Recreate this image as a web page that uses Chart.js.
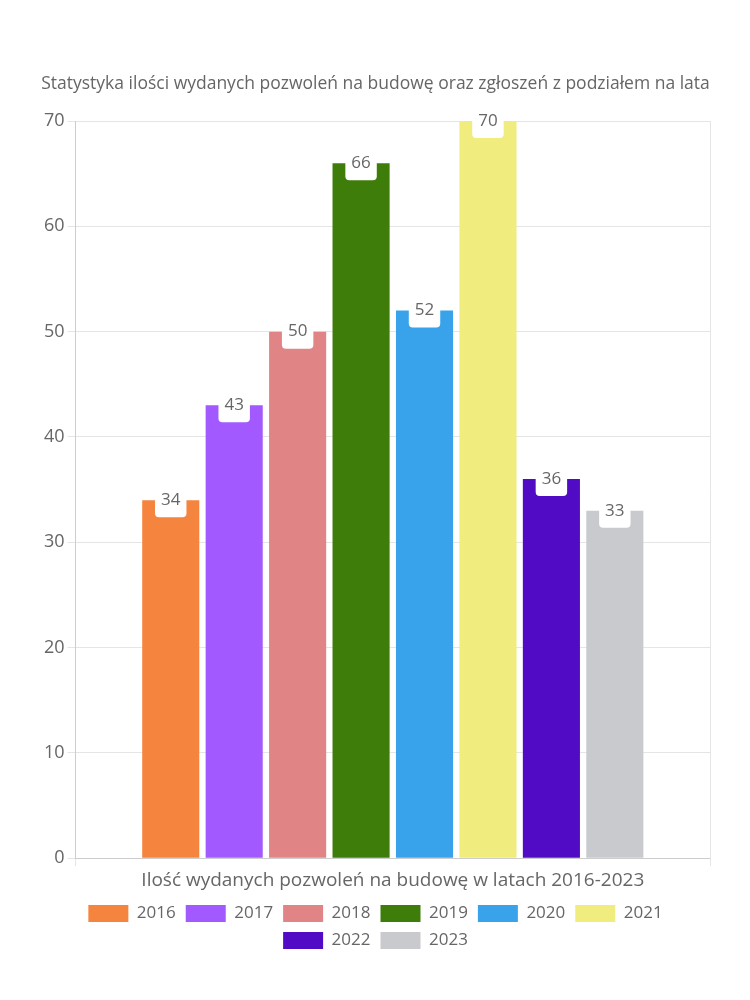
<!DOCTYPE html>
<html>
<head>
<meta charset="utf-8">
<script src="https://cdn.jsdelivr.net/npm/chart.js@4"></script>
<style>
  body { margin: 0; background: #fff; }
  #wrap { width: 750px; height: 1000px; }
</style>
</head>
<body>
<div id="wrap"><canvas id="chart"></canvas></div>
<script>
// data
const categories = ["Ilość wydanych pozwoleń na budowę w latach 2016-2023"];
const years = ["2016", "2017", "2018", "2019", "2020", "2021", "2022", "2023"];
const permits = [34, 43, 50, 66, 52, 70, 36, 33];
const colors = ["#F5843F", "#A259FF", "#E18486", "#3F7D0A", "#38A3EA", "#F0EC7E", "#520BC5", "#C9CACE"];
const yTicks = [0, 10, 20, 30, 40, 50, 60, 70];

const FONT = "'Open Sans', sans-serif";
const GREY = "#666";

// white rounded label box centred on the top of each bar
const valueLabels = {
  id: "valueLabels",
  afterDatasetsDraw(chart) {
    const ctx = chart.ctx;
    ctx.save();
    ctx.font = "17px " + FONT;
    ctx.textAlign = "center";
    ctx.textBaseline = "middle";
    chart.data.datasets.forEach((ds, i) => {
      const meta = chart.getDatasetMeta(i);
      if (meta.hidden) return;
      meta.data.forEach((bar, j) => {
        const text = String(ds.data[j]);
        const w = ctx.measureText(text).width + 12;
        const h = 34;
        ctx.fillStyle = "#fff";
        ctx.beginPath();
        ctx.roundRect(bar.x - w / 2, bar.y - h / 2, w, h, 4);
        ctx.fill();
        ctx.fillStyle = GREY;
        ctx.fillText(text, bar.x, bar.y);
      });
    });
    ctx.restore();
  }
};

new Chart(document.getElementById("chart"), {
  type: "bar",
  data: {
    labels: categories,
    datasets: years.map((y, i) => ({
      label: y,
      data: [permits[i]],
      backgroundColor: colors[i],
      borderColor: colors[i],
      borderWidth: 0,
    })),
  },
  options: {
    responsive: true,
    maintainAspectRatio: false,
    animation: false,
    layout: { padding: { top: 74, right: 40, left: 41, bottom: 41 } },
    plugins: {
      title: {
        display: true,
        text: "Statystyka ilości wydanych pozwoleń na budowę oraz zgłoszeń z podziałem na lata",
        color: GREY,
        font: { family: FONT, size: 17.5, weight: "normal" },
        padding: { top: 0, bottom: 26 },
      },
      legend: {
        position: "bottom",
        labels: {
          color: GREY,
          font: { family: FONT, size: 17 },
          boxWidth: 40,
          boxHeight: 17,
        },
      },
      tooltip: { enabled: false },
    },
    scales: {
      x: {
        grid: { color: "#e5e5e5", offset: true },
        ticks: { color: GREY, font: { family: FONT, size: 19 } },
      },
      y: {
        min: 0,
        max: 70,
        grid: { color: "#e5e5e5" },
        afterBuildTicks: (axis) => { axis.ticks = yTicks.map((v) => ({ value: v })); },
        ticks: { color: GREY, font: { family: FONT, size: 18 } },
      },
    },
  },
  plugins: [valueLabels],
});
</script>
</body>
</html>
